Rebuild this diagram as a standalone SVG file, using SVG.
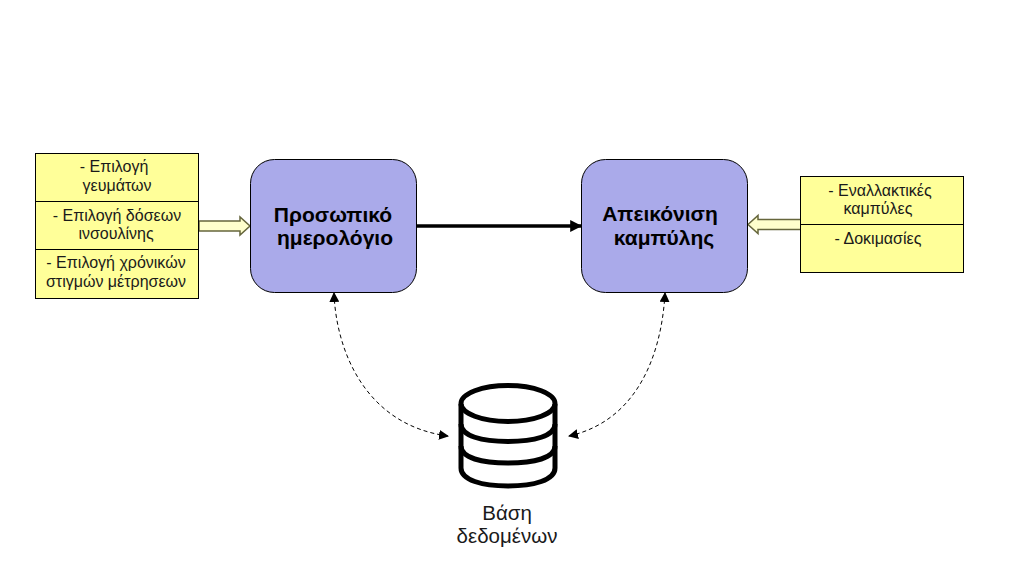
<svg xmlns="http://www.w3.org/2000/svg" width="1009" height="579" viewBox="0 0 1009 579">
<style>
text{font-family:"Liberation Sans",Arial,sans-serif;fill:#1a1a1a;text-anchor:middle}
.s{font-size:16px}
.b{font-size:21px;font-weight:bold;fill:#000}
.d{font-size:20.500px}
.y{fill:#ffff99;stroke:#000;stroke-width:1}
.p{fill:#aaaaea;stroke:#000;stroke-width:1}
.h{fill:#ffffcc;stroke:#66663c;stroke-width:1.500}
.c{fill:none;stroke:#000;stroke-width:1;stroke-dasharray:4 3}
</style>
<defs>
<marker id="sm" viewBox="0 0 10 10" refX="9" refY="5" markerWidth="10" markerHeight="10" markerUnits="userSpaceOnUse" orient="auto-start-reverse"><path d="M0 0L10 5L0 10Z" fill="#000"/></marker>
<marker id="lg" viewBox="0 0 10 10" refX="9" refY="5" markerWidth="12" markerHeight="12" markerUnits="userSpaceOnUse" orient="auto"><path d="M0 0L10 5L0 10Z" fill="#000"/></marker>
</defs>
<rect width="1009" height="579" fill="#fff"/>
<g id="connectors">
<path d="M417 226H581" fill="none" stroke="#000" stroke-width="3.500" marker-end="url(#lg)"/>
<path class="c" d="M334 293C336 350 365 425 448 436" marker-start="url(#sm)" marker-end="url(#sm)"/>
<path class="c" d="M665 293C662 350 640 420 569 436" marker-start="url(#sm)" marker-end="url(#sm)"/>
<path class="h" d="M199 221H240V217L250 226L240 235V231H199Z"/>
<path class="h" d="M801 219.500H758V215.500L748 224.500L758 233.500V229.500H801Z"/>
</g>
<g id="left-options">
<rect class="y" x="35.500" y="153.500" width="163" height="145"/>
<path d="M36 201.500H198M36 249.500H198" stroke="#000" fill="none"/>
<text class="s" x="114" y="172">- Επιλογή</text>
<text class="s" x="117" y="191">γευμάτων</text>
<text class="s" x="117" y="221">- Επιλογή δόσεων</text>
<text class="s" x="116" y="239">ινσουλίνης</text>
<text class="s" x="116" y="268">- Επιλογή χρόνικών</text>
<text class="s" x="116" y="287">στιγμών μέτρησεων</text>
</g>
<g id="diary">
<rect class="p" x="250.500" y="159.500" width="166" height="133" rx="24"/>
<text class="b" x="333" y="222">Προσωπικό</text>
<text class="b" x="335" y="245">ημερολόγιο</text>
</g>
<g id="curve">
<rect class="p" x="581.500" y="159.500" width="166" height="133" rx="24"/>
<text class="b" x="660" y="221">Απεικόνιση</text>
<text class="b" x="664" y="245">καμπύλης</text>
</g>
<g id="right-options">
<rect class="y" x="800.500" y="176.500" width="163" height="96"/>
<path d="M801 224.500H963" stroke="#000" fill="none"/>
<text class="s" x="880" y="196">- Εναλλακτικές</text>
<text class="s" x="878" y="214">καμπύλες</text>
<text class="s" x="878" y="244">- Δοκιμασίες</text>
</g>
<g id="database" fill="none" stroke="#000" stroke-width="5">
<ellipse cx="508" cy="403.500" rx="47" ry="18"/>
<path d="M461 404V468C461 480 482 486 508 486S555 480 555 468V404"/>
<path d="M461 424C461 436 482 441.500 508 441.500S555 436 555 424"/>
<path d="M461 446C461 458 482 463 508 463S555 458 555 446"/>
</g>
<g id="database-label">
<text class="d" x="507" y="520">Βάση</text>
<text class="d" x="507" y="543">δεδομένων</text>
</g>
</svg>
